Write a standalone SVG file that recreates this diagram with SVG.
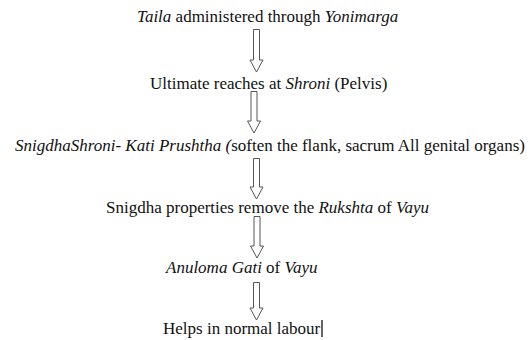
<svg xmlns="http://www.w3.org/2000/svg" width="529" height="340" viewBox="0 0 529 340">
<style>
text{font-family:'Liberation Serif','DejaVu Serif',serif;font-size:17px;fill:#111}
.i{font-style:italic}
.arrow{fill:#fff;stroke:#555;stroke-width:1}
</style>
<rect width="529" height="340" fill="#fff"/>
<g id="n1"><text x="137" y="22"><tspan class="i">Taila</tspan> administered through <tspan class="i">Yonimarga</tspan></text></g>
<g id="n2"><text x="150" y="89"><tspan>Ultimate reaches at </tspan><tspan class="i">Shroni</tspan> (Pelvis)</text></g>
<g id="n3"><text x="15" y="151"><tspan class="i">SnigdhaShroni- Kati Prushtha (</tspan>soften the flank, sacrum All genital organs)</text></g>
<g id="n4"><text x="106" y="213">Snigdha properties remove the <tspan class="i">Rukshta</tspan> of <tspan class="i">Vayu</tspan></text></g>
<g id="n5"><text x="166" y="273"><tspan class="i">Anuloma Gati</tspan> of <tspan class="i">Vayu</tspan></text></g>
<g id="n6"><text x="163" y="334">Helps in normal labour</text><line x1="322" y1="320" x2="322" y2="337" stroke="#111" stroke-width="1.3"/></g>
<g id="connectors">
<path class="arrow" d="M253.5,29.5 H259.5 V60 H263 L256.5,72 L250,60 H253.5 Z"/>
<path class="arrow" d="M251,91.5 H257 V121 H260.5 L254,133 L247.5,121 H251 Z"/>
<path class="arrow" d="M253.5,158.5 H259.5 V187 H263 L256.5,199 L250,187 H253.5 Z"/>
<path class="arrow" d="M254,216.5 H260 V246 H263.5 L257,258 L250.5,246 H254 Z"/>
<path class="arrow" d="M253.5,282.5 H259.5 V308 H263 L256.5,320 L250,308 H253.5 Z"/>
</g>
</svg>
